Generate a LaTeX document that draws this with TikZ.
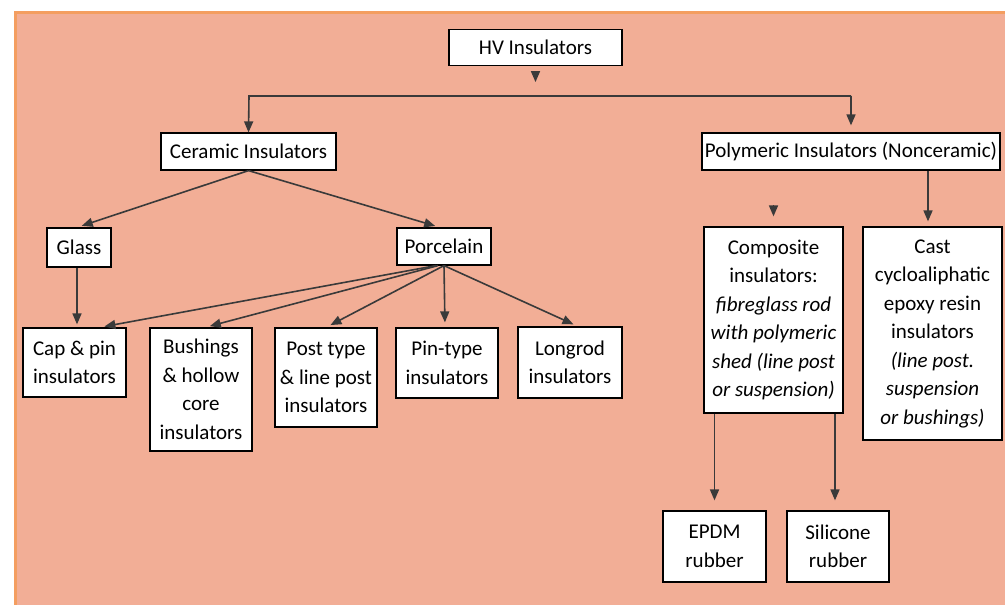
\documentclass[tikz,border=0pt]{standalone}
\usepackage{fontspec}
\setmainfont{Carlito}
\usepackage{xcolor}
\usetikzlibrary{arrows.meta}

\definecolor{salmon}{RGB}{242,174,150}
\definecolor{frameorange}{RGB}{244,158,96}
\definecolor{linegray}{RGB}{58,58,58}

\begin{document}
\begin{tikzpicture}[x=1pt, y=-1pt,
    box/.style={draw=black, line width=1.2pt, fill=white, align=center, inner sep=1pt,
        font=\fontsize{21}{28.5}\selectfont},
    arr/.style={draw=linegray, line width=1.6pt, -{Triangle[width=9pt,length=11pt]}}]
        % Page
        \useasboundingbox (0,0) rectangle (1005,605);
        \fill[salmon] (14,12) rectangle (1005,605);
        \draw[frameorange, line width=3pt] (15,605) -- (15,12) -- (1005,12);

        % Top level
        \node[box, minimum width=173pt, minimum height=36pt] (hv) at (535.5,47.5) {HV Insulators};

        % Ceramic branch
        \node[box, minimum width=175pt, minimum height=37pt] (ceramic) at (248.5,151.5) {Ceramic Insulators};
        \node[box, minimum width=64pt, minimum height=39pt] (glass) at (79,247.5) {Glass};
        \node[box, minimum width=94pt, minimum height=37pt] (porcelain) at (444,246.5) {Porcelain};

        % Ceramic insulator types
        \node[box, minimum width=103pt, minimum height=69pt] (cappin) at (74.5,362.5) {Cap \& pin\\insulators};
        \node[box, minimum width=102pt, minimum height=123pt] (bushings) at (201,389.5) {Bushings\\\& hollow\\core\\insulators};
        \node[box, minimum width=102pt, minimum height=99pt] (posttype) at (326,377.5) {Post type\\\& line post\\insulators};
        \node[box, minimum width=102pt, minimum height=70pt] (pintype) at (447,363) {Pin-type\\insulators};
        \node[box, minimum width=104pt, minimum height=71pt] (longrod) at (570,362.5) {Longrod\\insulators};

        % Polymeric branch
        \node[box, minimum width=298pt, minimum height=37pt] (polymeric) at (851,151.5) {Polymeric Insulators (Nonceramic)};
        \node[box, minimum width=139pt, minimum height=186pt] (composite) at (773.5,320) {Composite\\insulators:\\\textit{fibreglass rod}\\\textit{with polymeric}\\\textit{shed (line post}\\\textit{or suspension)}};
        \node[box, minimum width=139pt, minimum height=213pt] (cast) at (932.5,333.5) {Cast\\cycloaliphatic\\epoxy resin\\insulators\\\textit{(line post.}\\\textit{suspension}\\\textit{or bushings)}};
        \node[box, minimum width=103pt, minimum height=71pt] (epdm) at (714.5,546.5) {EPDM\\rubber};
        \node[box, minimum width=102pt, minimum height=71pt] (silicone) at (838,546.5) {Silicone\\rubber};

        % Bus under the top box
        \coordinate (busL) at (249,96);
        \coordinate (busR) at (851,96);

        % Connections
        \draw[arr] ([yshift=-5pt]hv.south) -- ([yshift=-16pt]hv.south);
        \draw[arr] (busR) -- (busL) -- (ceramic.north);
        \draw[arr, shorten >=7pt] (busR) -- (polymeric.north);
        \draw[arr, shorten >=5pt] (ceramic.south) -- ([xshift=-2pt]glass.north);
        \draw[arr, shorten >=5pt] (ceramic.south) -- ([xshift=-4pt]porcelain.north);
        \draw[arr, shorten >=3pt] ([xshift=-2pt]glass.south) -- ([xshift=2.5pt]cappin.north);
        \draw[arr, shorten >=5pt] ([xshift=-8pt]porcelain.south) -- ([xshift=25pt]cappin.north);
        \draw[arr, shorten >=5pt] ([xshift=-6pt]porcelain.south) -- ([xshift=4pt]bushings.north);
        \draw[arr, shorten >=5pt] (porcelain.south) -- (posttype.north);
        \draw[arr, shorten >=5pt] (porcelain.south) -- ([xshift=-2pt]pintype.north);
        \draw[arr, shorten >=5pt] (porcelain.south) -- ([xshift=8pt]longrod.north);
        \draw[arr, shorten >=5pt] ([xshift=-4.5pt]cast.north |- polymeric.south) -- ([xshift=-4.5pt]cast.north);
        \draw[arr] ([yshift=21pt]composite.north) -- ([yshift=10pt]composite.north);
        \draw[arr, shorten >=10pt] (epdm.north |- composite.south) -- (epdm.north);
        \draw[arr, shorten >=10pt] ([xshift=-3pt]silicone.north |- composite.south) -- ([xshift=-3pt]silicone.north);
    \end{tikzpicture}
\end{document}
